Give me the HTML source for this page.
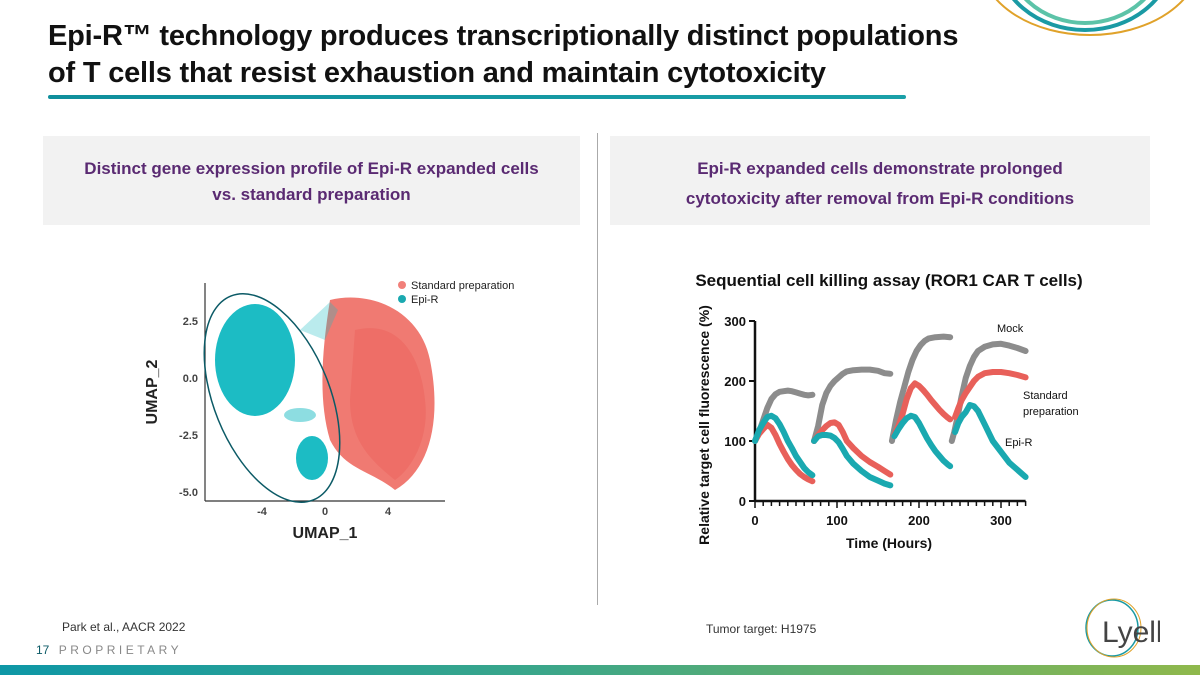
<!DOCTYPE html>
<html><head><meta charset="utf-8"><style>
body{margin:0;width:1200px;height:675px;overflow:hidden;background:#fff;font-family:"Liberation Sans",sans-serif;position:relative}
.abs{position:absolute}
.t{font-weight:bold;font-size:29px;color:#111;left:48px;top:18px;line-height:37px;letter-spacing:-0.2px}
.panel{background:#f2f2f2;top:136px;height:89px;color:#5a2a72;font-weight:bold;font-size:17px;text-align:center;line-height:26px}
</style></head><body>
<div class="abs t">Epi-R™ technology produces transcriptionally distinct populations<br>of T cells that resist exhaustion and maintain cytotoxicity</div>
<div class="abs" style="left:48px;top:95px;width:858px;height:4px;border-radius:2px;background:linear-gradient(90deg,#0f8f9c,#1aa0a8)"></div>
<svg class="abs" style="left:960px;top:0" width="240" height="60">
<ellipse cx="130" cy="-40" rx="110" ry="75" fill="none" stroke="#e0a22a" stroke-width="2"/>
<ellipse cx="125" cy="-45" rx="88" ry="75" fill="none" stroke="#1a9aa4" stroke-width="4"/>
<ellipse cx="125" cy="-50" rx="80" ry="73" fill="none" stroke="#5cc3a8" stroke-width="4"/>
</svg>
<div class="abs panel" style="left:43px;width:537px;padding-top:20px;height:69px">Distinct gene expression profile of Epi-R expanded cells<br>vs. standard preparation</div>
<div class="abs panel" style="left:610px;width:540px;padding-top:20px;height:69px">Epi-R expanded cells demonstrate prolonged<br><span style="position:relative;top:4px">cytotoxicity after removal from Epi-R conditions</span></div>
<div class="abs" style="left:597px;top:133px;width:1px;height:472px;background:#aaa"></div>

<svg class="abs" style="left:0;top:0" width="600" height="600">
<line x1="205" y1="283" x2="205" y2="501" stroke="#333" stroke-width="1.2"/>
<line x1="205" y1="501" x2="445" y2="501" stroke="#333" stroke-width="1.2"/>
<g font-size="11" fill="#444" text-anchor="end" font-weight="bold">
<text x="198" y="325">2.5</text><text x="198" y="382">0.0</text><text x="198" y="439">-2.5</text><text x="198" y="496">-5.0</text></g>
<g font-size="11" fill="#444" text-anchor="middle" font-weight="bold">
<text x="262" y="515">-4</text><text x="325" y="515">0</text><text x="388" y="515">4</text></g>
<text x="325" y="538" font-size="16" font-weight="bold" text-anchor="middle" fill="#222">UMAP_1</text>
<text transform="translate(157,392) rotate(-90)" font-size="16" font-weight="bold" text-anchor="middle" fill="#222">UMAP_2</text>
<path d="M330 300 C370 290 420 310 430 360 C442 420 430 470 395 490 C370 470 345 470 330 440 C318 400 322 350 330 300Z" fill="#f07a72"/>
<path d="M355 330 C395 320 420 350 425 400 C430 440 410 470 395 480 C370 460 350 440 350 400Z" fill="#ec6a62" opacity="0.7"/>
<ellipse cx="255" cy="360" rx="40" ry="56" fill="#1cbcc4"/>
<ellipse cx="312" cy="458" rx="16" ry="22" fill="#1cbcc4"/>
<path d="M300 330 L330 302 L338 310 L325 340 Z" fill="#1cbcc4" opacity="0.3"/>
<ellipse cx="300" cy="415" rx="16" ry="7" fill="#1cbcc4" opacity="0.5"/>
<ellipse cx="272" cy="398" rx="58" ry="110" transform="rotate(-22 272 398)" fill="none" stroke="#0b5a66" stroke-width="1.5"/>
<circle cx="402" cy="285" r="4" fill="#f1807a"/><text x="411" y="289" font-size="11" fill="#222">Standard preparation</text>
<circle cx="402" cy="299" r="4" fill="#1aa9b0"/><text x="411" y="303" font-size="11" fill="#222">Epi-R</text>
</svg>

<svg id="kc" class="abs" style="left:600px;top:250px" width="600" height="310"></svg>

<div class="abs" style="left:62px;top:620px;font-size:12px;color:#333">Park et al., AACR 2022</div>
<div class="abs" style="left:706px;top:622px;font-size:12px;color:#333">Tumor target: H1975</div>
<div class="abs" style="left:36px;top:643px;font-size:12px;color:#0b5a66">17 <span style="color:#888;letter-spacing:3.5px;margin-left:6px">PROPRIETARY</span></div>
<svg class="abs" style="left:1080px;top:598px" width="80" height="62">
<ellipse cx="32" cy="30" rx="26" ry="28" fill="none" stroke="#1a9aa4" stroke-width="1.5"/>
<ellipse cx="34" cy="30" rx="27" ry="29" fill="none" stroke="#e0a22a" stroke-width="1"/>
<text x="22" y="44" font-size="30" fill="#444">Lyell</text></svg>
<div class="abs" style="left:0;top:665px;width:1200px;height:10px;background:linear-gradient(90deg,#0e97a6,#3aa68a 45%,#8fb84c)"></div>

<script>
const yTicks=[0,100,200,300];
const xTicks=[0,100,200,300];
const mockT=[[0,5,10,15,20,25,30,35,40,45,50,55,60,65,70],[72,77,82,87,92,97,102,107,112,120,130,140,150,158,165],[167,172,177,182,187,192,197,202,207,212,220,230,238],[240,243,247,252,257,262,267,272,280,290,300,310,320,330]];
const mockV=[[100,115,135,155,170,178,182,183,184,183,181,179,177,176,177],[100,125,160,180,192,200,206,212,216,218,219,219,217,213,212],[100,135,165,190,215,235,250,260,267,271,273,274,273],[100,115,140,175,205,225,240,250,257,261,262,259,255,250]];
const stdT=[[0,5,10,15,20,25,30,35,40,45,50,55,60,65,70],[72,77,82,87,92,97,102,107,112,120,130,140,150,158,165],[170,175,180,185,190,195,200,205,210,215,220,225,230,235,238],[244,248,252,257,262,267,272,280,290,300,310,320,330]];
const stdV=[[100,112,120,127,122,110,95,82,70,60,52,45,40,36,33],[100,110,118,125,130,131,127,115,100,88,75,65,57,50,44],[110,125,145,170,188,196,192,185,177,168,160,152,145,139,136],[140,155,168,180,190,200,207,213,215,215,213,210,206]];
const epiT=[[0,5,10,15,20,25,30,35,40,45,50,55,60,65,70],[72,77,82,87,92,97,102,107,112,120,130,140,150,158,165],[170,175,180,185,190,195,200,205,210,215,220,225,230,235,238],[244,248,252,257,262,267,272,280,290,300,310,320,330]];
const epiV=[[100,118,130,140,142,138,128,115,100,88,75,65,55,48,43],[100,108,110,110,109,105,98,87,75,62,50,40,34,29,26],[108,120,130,138,142,140,130,117,104,93,83,75,67,61,58],[115,130,140,148,160,158,150,128,100,82,64,52,40]];
const NS='http://www.w3.org/2000/svg';
const svg=document.getElementById('kc');
const X=t=>155+t*0.82, Y=v=>251-v*0.6;
function mk(tag,a,p){const e=document.createElementNS(NS,tag);for(const k in a)e.setAttribute(k,a[k]);(p||svg).appendChild(e);return e;}
let ax=mk('line',{x1:X(0),y1:Y(0),x2:X(0),y2:Y(300),stroke:'#111','stroke-width':2.5});


let axx=mk('line',{x1:X(0),y1:Y(0),x2:X(330),y2:Y(0),stroke:'#111','stroke-width':2.5});


for(let t=0;t<=330;t+=10){mk('line',{x1:X(t),y1:Y(0),x2:X(t),y2:Y(0)+(t%100==0?7:5),stroke:'#111','stroke-width':1.5});}
yTicks.forEach(v=>{mk('line',{x1:X(0)-6,y1:Y(v),x2:X(0),y2:Y(v),stroke:'#111','stroke-width':2});
 const tx=mk('text',{x:X(0)-9,y:Y(v)+5,'font-size':13,'font-weight':'bold','text-anchor':'end',fill:'#111'});tx.textContent=v;});
xTicks.forEach(t=>{const tx=mk('text',{x:X(t),y:Y(0)+24,'font-size':13,'font-weight':'bold','text-anchor':'middle',fill:'#111'});tx.textContent=t;});
function series(T,V,col,name){T.forEach((ts,i)=>{const g=mk('g',{});
 
 
 mk('polyline',{points:ts.map((t,j)=>X(t)+','+Y(V[i][j])).join(' '),fill:'none',stroke:col,'stroke-width':6,'stroke-linecap':'round','stroke-linejoin':'round'},g);});}
series(mockT,mockV,'#8c8c8c','mock');
series(stdT,stdV,'#e8605a','standard');
series(epiT,epiV,'#1aa9b0','epi-r');
function txt(x,y,s,sz,w,name,anchor,rot){const e=mk('text',{x:x,y:y,'font-size':sz,'font-weight':w||'normal',fill:'#111','text-anchor':anchor||'start'});if(rot)e.setAttribute('transform',rot);e.textContent=s;
 
 return e;}
txt(289,36,'Sequential cell killing assay (ROR1 CAR T cells)',17,'bold','chart-title','middle');
txt(397,82,'Mock',11,'','label-mock');
txt(423,149,'Standard',11,'','label-standard');
txt(423,165,'preparation',11,'','label-standard-2');
txt(405,196,'Epi-R',11,'','label-epi-r');
txt(289,298,'Time (Hours)',14,'bold','x-axis-title','middle');
txt(0,0,'Relative target cell fluorescence (%)',14,'bold','y-axis-title','middle','translate(109,175) rotate(-90)');
</script>
</body></html>
